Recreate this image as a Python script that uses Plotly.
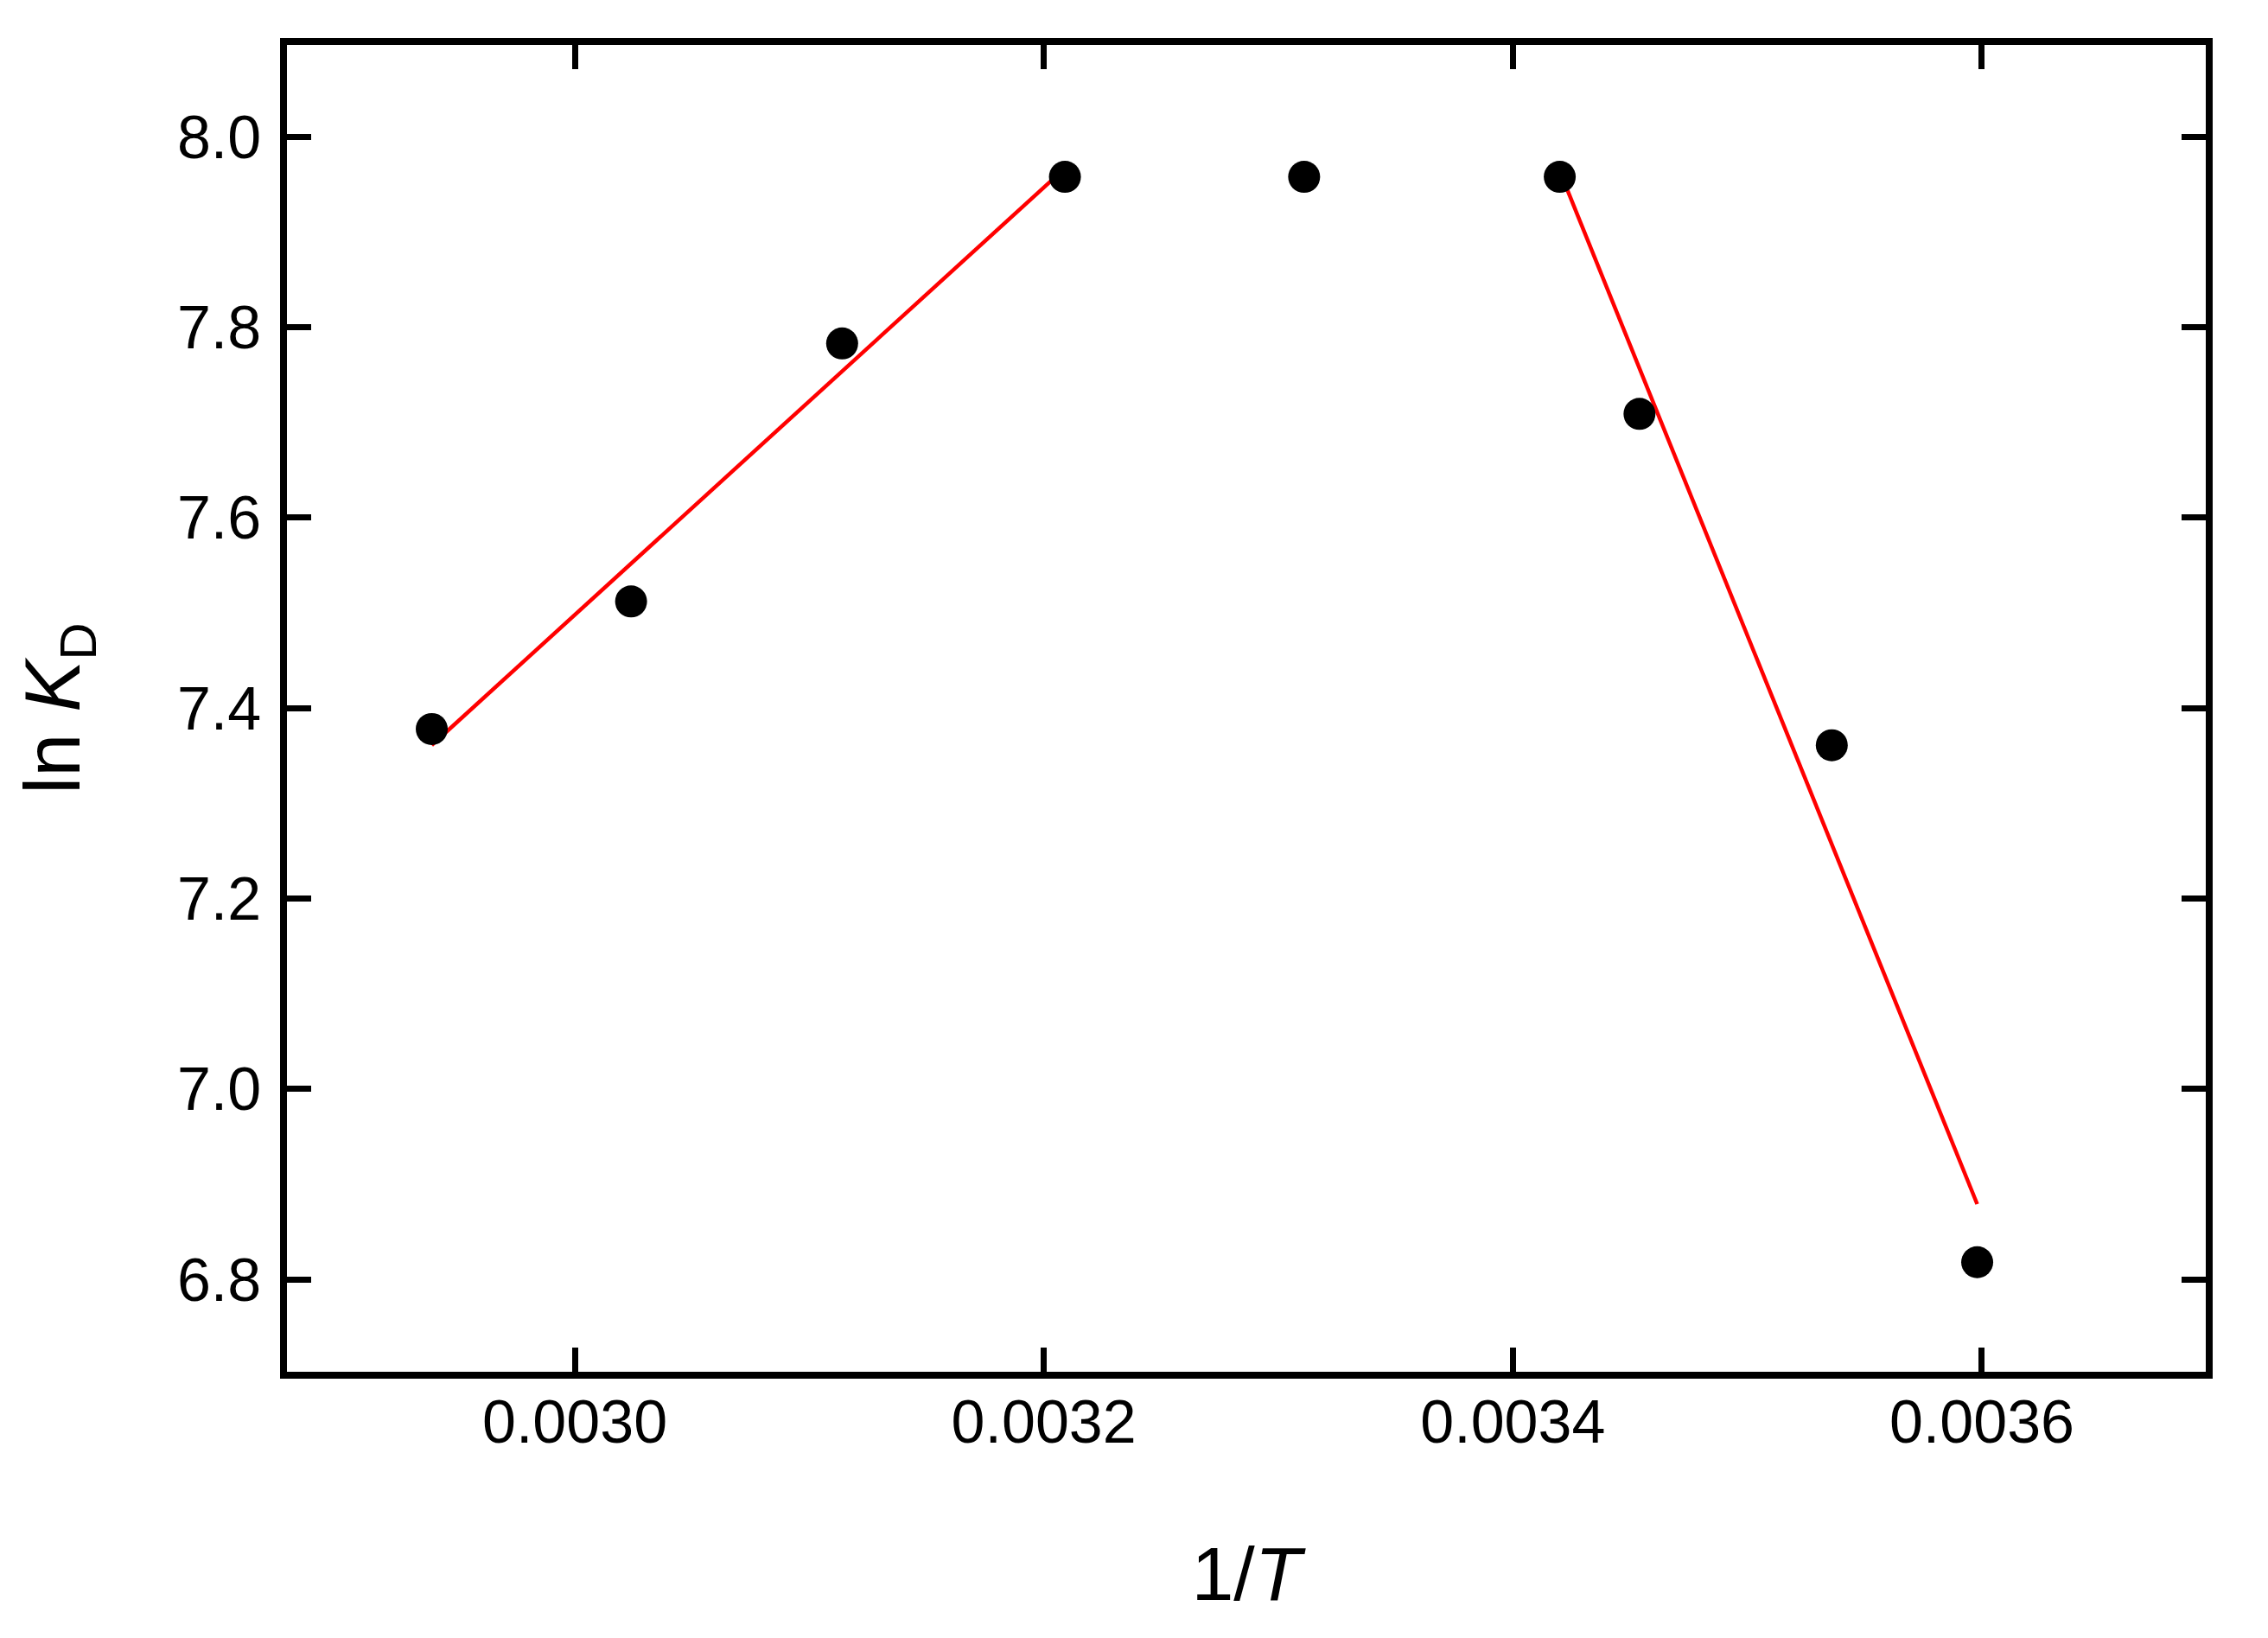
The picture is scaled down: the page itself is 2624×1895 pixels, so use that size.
import plotly.graph_objects as go

# Data
inv_T = [0.002939, 0.003024, 0.003114, 0.003209, 0.003311, 0.003420, 0.003454, 0.003536, 0.003598]
ln_KD = [7.378, 7.512, 7.783, 7.958, 7.958, 7.958, 7.709, 7.361, 6.818]

fit1_x = [0.002939, 0.003209]
fit1_y = [7.361, 7.967]
fit2_x = [0.003420, 0.003598]
fit2_y = [7.964, 6.879]

x_ticks = [0.0030, 0.0032, 0.0034, 0.0036]
x_ticktext = ["0.0030", "0.0032", "0.0034", "0.0036"]
y_ticks = [6.8, 7.0, 7.2, 7.4, 7.6, 7.8, 8.0]
y_ticktext = ["6.8", "7.0", "7.2", "7.4", "7.6", "7.8", "8.0"]

FONT = "Liberation Sans, Arial, sans-serif"

fig = go.Figure()
fig.add_trace(go.Scatter(x=fit1_x, y=fit1_y, mode="lines",
                         line=dict(color="#ff0000", width=4.5), showlegend=False))
fig.add_trace(go.Scatter(x=fit2_x, y=fit2_y, mode="lines",
                         line=dict(color="#ff0000", width=4.5), showlegend=False))
fig.add_trace(go.Scatter(x=inv_T, y=ln_KD, mode="markers",
                         marker=dict(color="black", size=37, line=dict(width=0)),
                         showlegend=False))

axis_common = dict(
    showline=True, linecolor="black", linewidth=7.5, mirror="ticks",
    ticks="inside", ticklen=28, tickwidth=7, tickcolor="black",
    showgrid=False, zeroline=False,
    tickfont=dict(family=FONT, size=70, color="black"),
)

fig.update_xaxes(range=[0.00287726, 0.00369547], tickvals=x_ticks, ticktext=x_ticktext,
                 title=dict(text="1/<i>T</i>", font=dict(family=FONT, size=88, color="black"),
                            standoff=110),
                 ticklabelstandoff=-10,
                 **axis_common)
fig.update_yaxes(range=[6.7029, 8.0965], tickvals=y_ticks, ticktext=y_ticktext,
                 title=dict(text="ln <i>K</i><sub><span style=\"font-size:60px\">D</span></sub>",
                            font=dict(family=FONT, size=90, color="black"),
                            standoff=85),
                 ticklabelstandoff=8,
                 **axis_common)

fig.update_layout(
    width=2624, height=1895,
    margin=dict(l=324, r=80, t=44, b=316),
    plot_bgcolor="white", paper_bgcolor="white",
    font=dict(family=FONT, color="black"),
)

fig.write_html("out.html")
